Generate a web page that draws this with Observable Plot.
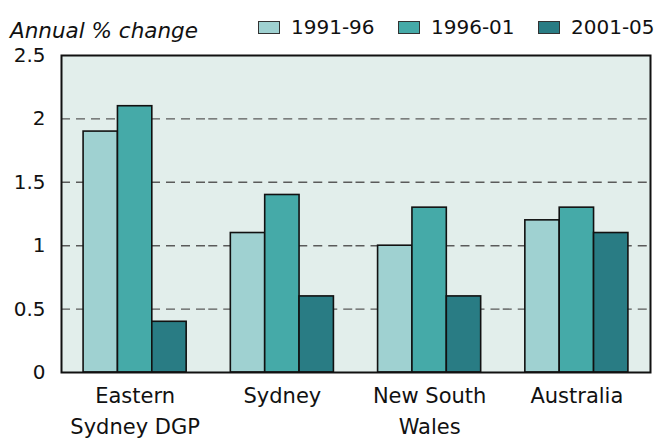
<!DOCTYPE html>
<html>
<head>
<meta charset="utf-8">
<script src="https://cdn.jsdelivr.net/npm/d3@7"></script>
<script src="https://cdn.jsdelivr.net/npm/@observablehq/plot@0.6"></script>
<style>
  html, body { margin: 0; padding: 0; background: #ffffff; }
  #wrap { position: relative; width: 659px; height: 438px; font-family: "DejaVu Sans", sans-serif; color: #111; }
  #title { position: absolute; left: 10px; top: 20px; font-size: 21.5px; line-height: 21px; font-style: italic; white-space: nowrap; }
  #legend { position: absolute; left: 258px; top: 17px; display: flex; }
  .item { width: 140px; display: flex; align-items: center; font-size: 20px; line-height: 20px; white-space: nowrap; }
  .sw { width: 20px; height: 11px; border: 1.5px solid #333; margin-right: 11px; box-sizing: content-box; }
  #chart { position: absolute; left: 0; top: 0; }
</style>
</head>
<body>
<div id="wrap">
  <div id="chart"></div>
  <div id="title">Annual % change</div>
  <div id="legend"></div>
</div>
<script>
// ---- data ----
const regions = ["Eastern\nSydney DGP", "Sydney", "New South\nWales", "Australia"];
const periods = ["1991-96", "1996-01", "2001-05"];
const values1991_96 = [1.9, 1.1, 1.0, 1.2];
const values1996_01 = [2.1, 1.4, 1.3, 1.3];
const values2001_05 = [0.4, 0.6, 0.6, 1.1];
const yTicks = [0, 0.5, 1, 1.5, 2, 2.5];
const yTickLabels = ["0", "0.5", "1", "1.5", "2", "2.5"];
const gridTicks = [0.5, 1, 1.5, 2];
const colors = ["#9fd1d1", "#45aaa8", "#297c84"];

const series = [values1991_96, values1996_01, values2001_05];
const rows = [];
regions.forEach((r, i) => periods.forEach((p, j) => rows.push({region: r, period: p, value: series[j][i]})));

// ---- layout ----
const W = 659, H = 438, ML = 61, MR = 9, MT = 55, MB = 66;
const padInner = 0.3, padOuter = 0.15;
const step = (W - ML - MR) / (regions.length - padInner + 2 * padOuter);
const half = padOuter * step; // half gap between groups (== outer padding)
const bg = "#e2eeeb";

const chart = Plot.plot({
  width: W, height: H,
  marginLeft: ML, marginRight: MR, marginTop: MT, marginBottom: MB,
  style: {fontFamily: "DejaVu Sans, sans-serif", fontSize: "20px", color: "#111", background: "transparent"},
  fx: {domain: regions, paddingInner: padInner, paddingOuter: padOuter, round: false, label: null},
  x: {domain: periods, padding: 0, round: false, axis: null},
  y: {domain: [0, 2.5], label: null},
  color: {domain: periods, range: colors},
  marks: [
    Plot.frame({facet: "super", fill: bg, insetLeft: -half, insetRight: -half}),
    Plot.ruleY(gridTicks, {stroke: "#5a5a5a", strokeWidth: 1.4, strokeDasharray: "9,6", insetLeft: -half, insetRight: -half}),
    Plot.barY(rows, {fx: "region", x: "period", y: "value", fill: "period", stroke: "#111", strokeWidth: 1.6}),
    Plot.axisY(yTicks, {anchor: "left", tickSize: 0, tickPadding: 16 + half, fontSize: 20, label: null,
      tickFormat: (d) => yTickLabels[yTicks.indexOf(d)]}),
    Plot.axisFx({anchor: "bottom", tickSize: 0, tickPadding: 9, fontSize: 21, lineHeight: 1.45, label: null}),
    Plot.frame({facet: "super", stroke: "#111", strokeWidth: 2, insetLeft: -half, insetRight: -half})
  ]
});
document.getElementById("chart").appendChild(chart);

// ---- legend ----
const color = chart.scale("color");
const legend = d3.select("#legend");
periods.forEach((p, j) => {
  const item = legend.append("div").attr("class", "item");
  item.append("div").attr("class", "sw").style("background", color.range[j]);
  item.append("span").text(p);
});
</script>
</body>
</html>
